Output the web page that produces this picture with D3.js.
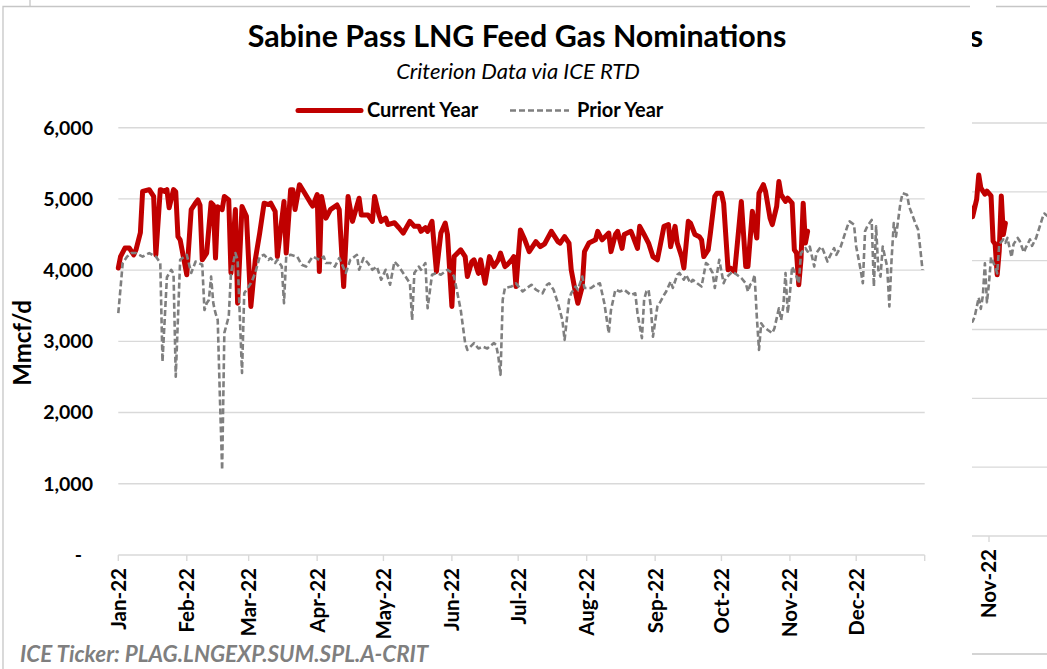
<!DOCTYPE html>
<html lang="en">
<head>
<meta charset="UTF-8">
<title>Sabine Pass LNG Feed Gas Nominations</title>
<script src="https://d3js.org/d3.v7.min.js"></script>
<style>
  body { margin: 0; background: #fff; overflow: hidden; }
  svg { display: block; font-family: Lato, "Open Sans", sans-serif; }
  .grid { stroke: #d9d9d9; stroke-width: 1.4px; }
  .frame { stroke: #c6c6c6; stroke-width: 1.3px; fill: none; }
  .lab { font-weight: 700; fill: #000; }
</style>
</head>
<body>
<script>
// day offsets from 1 Jan 2022, values in Mmcf/d
const currentDays = [0,1,3,5,7,8,10,11,14,16,17,19,21,22,23,25,26,27,28,31,33,35,36,37,38,40,42,43,44,45,47,48,50,51,53,54,56,58,60,62,64,66,68,69,71,72,75,76,78,79,80,82,84,87,88,90,91,92,94,96,99,100,102,104,106,109,110,113,115,116,118,119,121,122,125,127,129,132,134,136,137,139,140,142,144,146,148,149,151,152,155,157,158,160,161,163,164,166,168,170,172,173,175,176,178,179,180,182,184,186,189,191,193,196,199,200,202,204,205,207,208,210,211,213,216,217,219,222,223,225,226,228,229,232,233,235,236,238,240,242,244,247,249,250,252,253,255,256,258,259,261,263,264,265,267,268,270,271,273,274,276,277,279,282,284,285,287,289,290,292,293,295,296,298,299,300,302,303,305,306,307,308,309,310,311,312];
const currentVals = [4030,4190,4310,4310,4215,4285,4525,5105,5130,5035,4215,5130,5105,5130,4875,5130,5100,4470,4425,3935,4850,4945,4985,4910,4145,4240,4945,4915,4170,4890,4850,5035,4985,3960,4850,3535,4895,4755,3490,4145,4520,4940,4920,4940,4825,4190,4965,4240,5130,5130,4850,5200,5100,4945,4900,5060,3980,5035,4730,4850,4915,4850,3770,5035,4685,5010,4775,4775,4685,5035,4775,4685,4730,4640,4665,4595,4520,4685,4615,4615,4545,4595,4545,4685,3980,4520,4660,4500,3490,4190,4285,4190,3910,4120,4145,3955,4145,3815,4190,4050,4145,4240,4050,4075,4145,4190,3770,4565,4425,4260,4400,4330,4370,4545,4400,4380,4470,4380,4005,3675,3535,3770,4260,4380,4425,4545,4425,4520,4260,4500,4545,4305,4500,4545,4470,4305,4615,4500,4380,4190,4145,4615,4640,4330,4615,4380,4190,4030,4685,4660,4500,4470,4425,4190,4285,4520,5035,5080,5080,4940,4005,4030,3980,4965,4050,4050,4825,4450,5080,5200,5100,4730,4640,4895,5245,5060,4965,5010,4940,4285,4240,3795,4145,4940,4380,4545];

const priorDays = [0,2,4,6,8,11,14,17,19,20,22,24,25,26,28,31,33,35,38,39,40,41,42,43,44,45,46,47,48,50,51,53,54,56,57,59,60,62,64,66,68,69,71,72,74,75,76,78,81,83,85,88,91,93,94,96,98,100,103,105,108,109,111,113,115,117,119,121,123,125,127,130,132,133,134,136,137,139,140,142,144,146,149,151,152,155,157,158,161,163,165,167,170,171,172,173,174,175,178,180,183,185,187,189,192,194,195,197,199,201,202,204,205,207,208,210,211,214,216,218,220,222,223,225,227,229,232,234,235,237,238,239,240,241,242,244,245,247,248,250,251,253,254,256,257,259,260,262,264,266,267,269,270,272,274,275,278,280,282,284,285,286,287,288,289,290,291,292,294,296,297,299,300,301,302,303,304,305,307,308,309,311,312,313,315,316,318,319,321,322,324,325,327,328,330,331,333,334,336,337,338,339,341,342,343,344,345,346,348,349,350,351,352,354,355,357,358,361,362,363,364];
const priorVals = [3395,4100,4190,4240,4240,4190,4240,4190,4100,2715,3900,4005,3950,2505,4145,4215,3960,4120,4075,3440,3535,3580,3910,3535,3395,3300,2200,1195,3120,3350,3960,4240,4145,2555,3675,3770,3815,3960,4190,4215,4145,4170,4100,4145,4050,3535,4190,4215,4190,4075,4050,4190,4145,4190,4100,4100,4050,4170,3960,4145,4215,4005,4170,4100,4005,4050,3865,4005,3795,4120,4050,3910,3815,3300,3960,4050,4005,4100,3465,3935,3960,3935,4005,3960,3910,3440,2975,2880,2975,2900,2925,2900,2975,2950,2790,2530,3585,3750,3770,3815,3700,3750,3795,3725,3675,3795,3815,3725,3535,3300,3020,3585,3675,3770,3725,3910,3750,3750,3795,3815,3535,3115,3440,3725,3700,3725,3650,3675,3395,3045,3585,3700,3725,3490,3065,3490,3535,3650,3700,3840,3750,3935,3960,3865,3935,3815,3865,3815,3770,4100,4075,3960,3750,4145,3815,3890,3980,3935,3890,3815,3700,3795,3815,3935,3350,2880,3255,3210,3160,3115,3185,3465,3300,3490,3960,3395,3675,4050,3910,3815,4240,4310,4260,4330,4050,4240,4330,4285,4120,4190,4310,4215,4330,4425,4615,4685,4640,4330,4005,3815,4545,4615,4705,3770,4615,4005,3910,4330,4050,3490,4145,4660,4470,4940,5080,5060,4890,4640,4570,4300,4005];

const yTicks = [0, 1000, 2000, 3000, 4000, 5000, 6000];
const seriesNames = ["Current Year", "Prior Year"];

const W = 1047, H = 669;
const start = new Date(2022, 0, 1), end = new Date(2023, 0, 1);
const toSeries = (days, vals) => days.map((d, i) => ({ date: d3.timeDay.offset(start, d), v: vals[i] }));
const current = toSeries(currentDays, currentVals);
const prior = toSeries(priorDays, priorVals);
const months = d3.timeMonth.range(start, d3.timeDay.offset(end, 1));
const fmtMonth = d3.timeFormat("%b-%y");

const svg = d3.select("body").append("svg").attr("width", W).attr("height", H);
svg.append("rect").attr("width", W).attr("height", H).attr("fill", "#fff");

svg.append("defs").append("clipPath").attr("id", "rightClip")
  .append("rect").attr("x", 972).attr("y", 0).attr("width", W - 972).attr("height", H);

function drawPanel(g, opt) {
  const x = d3.scaleTime().domain([start, end]).range(opt.xr);
  const y = d3.scaleLinear().domain([0, 6000]).range(opt.yr);

  // gridlines
  g.append("g").selectAll("line").data(yTicks.slice(1)).join("line")
    .attr("class", "grid")
    .attr("x1", opt.xr[0]).attr("x2", opt.xr[1])
    .attr("y1", d => y(d)).attr("y2", d => y(d));

  // category axis line + month ticks
  g.append("line").attr("class", "grid")
    .attr("x1", opt.xr[0]).attr("x2", opt.xr[1])
    .attr("y1", y(0)).attr("y2", y(0));
  g.append("g").selectAll("line").data(months).join("line")
    .attr("class", "grid")
    .attr("x1", d => x(d)).attr("x2", d => x(d))
    .attr("y1", y(0)).attr("y2", y(0) + 6);

  g.append("g").selectAll("text").data(months.slice(0, opt.nLabels)).join("text")
    .attr("class", "lab")
    .attr("transform", d => `translate(${x(d)},${y(0) + 13}) rotate(-90)`)
    .attr("text-anchor", "end")
    .attr("dy", "0.36em")
    .style("font-size", "20.5px")
    .text(fmtMonth);

  // value labels
  g.append("g").selectAll("text").data(yTicks).join("text")
    .attr("class", "lab")
    .attr("x", d => d === 0 ? opt.yLabelX - 11 : opt.yLabelX)
    .attr("y", d => y(d))
    .attr("dy", "0.35em")
    .attr("text-anchor", "end")
    .style("font-size", "19.5px")
    .text(d => d === 0 ? "-" : d3.format(",")(d));

  const line = d3.line().x(d => x(d.date)).y(d => y(d.v));
  g.append("path").datum(current)
    .attr("d", line).attr("fill", "none")
    .attr("stroke", "#c00000").attr("stroke-width", 5)
    .attr("stroke-linejoin", "round").attr("stroke-linecap", "round");
  g.append("path").datum(prior)
    .attr("d", line).attr("fill", "none")
    .attr("stroke", "#7f7f7f").attr("stroke-width", 2.6)
    .attr("stroke-dasharray", "6,3")
    .attr("stroke-linejoin", "round");
}

// main chart
const main = svg.append("g");
drawPanel(main, { xr: [118.3, 924.7], yr: [555, 127.7], yLabelX: 93, nLabels: 12 });

main.append("text").attr("class", "lab")
  .attr("x", 517).attr("y", 47).attr("text-anchor", "middle")
  .style("font-size", "30.4px").text("Sabine Pass LNG Feed Gas Nominations");
main.append("text")
  .attr("x", 518).attr("y", 79).attr("text-anchor", "middle")
  .style("font-size", "22px").style("font-style", "italic")
  .text("Criterion Data via ICE RTD");

// legend
const legend = main.append("g");
legend.append("line").attr("x1", 298).attr("x2", 361).attr("y1", 110.5).attr("y2", 110.5)
  .attr("stroke", "#c00000").attr("stroke-width", 5).attr("stroke-linecap", "round");
legend.append("text").attr("class", "lab").attr("x", 367).attr("y", 117)
  .style("font-size", "20px").text(seriesNames[0]);
legend.append("line").attr("x1", 510).attr("x2", 569).attr("y1", 110.5).attr("y2", 110.5)
  .attr("stroke", "#7f7f7f").attr("stroke-width", 2.6).attr("stroke-dasharray", "6,3");
legend.append("text").attr("class", "lab").attr("x", 577).attr("y", 117)
  .style("font-size", "20px").text(seriesNames[1]);

main.append("text")
  .attr("transform", "translate(23,343) rotate(-90)")
  .attr("text-anchor", "middle").attr("dy", "0.35em")
  .attr("class", "lab").style("font-size", "24px").text("Mmcf/d");

main.append("text")
  .attr("x", 20).attr("y", 662)
  .style("font-size", "22.4px").style("font-weight", 700).style("font-style", "italic")
  .attr("fill", "#7f7f7f")
  .text("ICE Ticker: PLAG.LNGEXP.SUM.SPL.A-CRIT");

// frame of main chart
main.append("path").attr("class", "frame").attr("d", "M3,669V6.5H970");
main.append("line").attr("class", "frame").attr("x1", 30).attr("x2", 30).attr("y1", 0).attr("y2", 6);

// partially visible copy of the chart on the right (clipped at x = 972)
const copy = svg.append("g").attr("clip-path", "url(#rightClip)");
const dayPx = 2.05;
drawPanel(copy, { xr: [989 - 304 * dayPx, 989 + 61 * dayPx], yr: [536, 123], yLabelX: 300, nLabels: 11 });
copy.append("text").attr("class", "lab")
  .attr("x", 983).attr("y", 47).attr("text-anchor", "end")
  .style("font-size", "30.4px").text("Sabine Pass LNG Feed Gas Nominations");
copy.append("path").attr("class", "frame").attr("d", "M996,6.5H1047M972,654H1047");
</script>
</body>
</html>
